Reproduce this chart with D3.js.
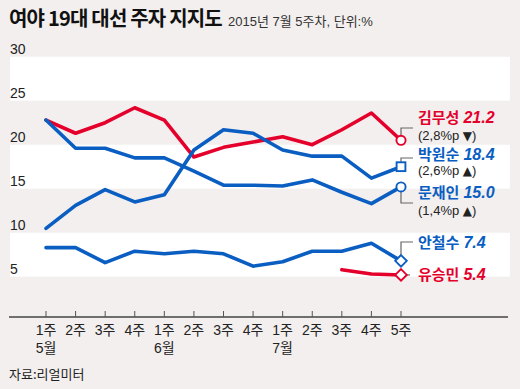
<!DOCTYPE html>
<html>
<head>
<meta charset="utf-8">
<script src="https://cdn.jsdelivr.net/npm/d3@7"></script>
<style>
  body { margin: 0; background: #f2efee; }
  svg { display: block; }
</style>
</head>
<body>
<script>
// weekly poll numbers, May wk1 .. July wk5
var weeks = ["1주", "2주", "3주", "4주", "1주", "2주", "3주", "4주", "1주", "2주", "3주", "4주", "5주"];
var months = ["5월", "", "", "", "6월", "", "", "", "7월", "", "", "", ""];
var yTicks = [5, 10, 15, 20, 25, 30];

var kimMusung = [22.8, 21.3, 22.5, 24.2, 22.8, 18.6, 19.7, 20.3, 20.9, 20.0, 21.7, 23.6, 20.5];
var parkWonsoon = [10.5, 13.1, 14.9, 13.5, 14.3, 19.4, 21.7, 21.3, 19.4, 18.7, 18.7, 16.2, 17.5];
var moonJaein = [22.8, 19.6, 19.6, 18.5, 18.5, 17.0, 15.4, 15.4, 15.3, 16.0, 14.6, 13.3, 15.2];
var ahnCheolsoo = [8.3, 8.3, 6.6, 7.9, 7.6, 7.9, 7.6, 6.2, 6.7, 7.9, 7.9, 8.8, 6.8];
var yooSeungmin = [null, null, null, null, null, null, null, null, null, null, 5.8, 5.3, 5.2];

var names = ["김무성", "박원순", "문재인", "안철수", "유승민"];
var latest = ["21.2", "18.4", "15.0", "7.4", "5.4"];
var changes = [["2,8%p", "▼"], ["2,6%p", "▲"], ["1,4%p", "▲"], null, null];

var red = "#e4002b", blue = "#0a5ec2";

var series = [
    {values: kimMusung, color: red, marker: "circle"},
    {values: parkWonsoon, color: blue, marker: "square"},
    {values: moonJaein, color: blue, marker: "circle"},
    {values: ahnCheolsoo, color: blue, marker: "diamond"},
    {values: yooSeungmin, color: red, marker: "diamond"}
];
// where each right-hand label sits (leader bend y, name baseline)
var labelPos = [
    {bend: 128, nameY: 123, subY: 140},
    {bend: 158, nameY: 160, subY: 175},
    {bend: 203, nameY: 198, subY: 215},
    {bend: 242, nameY: 248},
    {bend: null, nameY: 280}
];

var width = 520, height = 389;
var svg = d3.select("body").append("svg")
    .attr("width", width)
    .attr("height", height);

svg.append("rect")
    .attr("width", width).attr("height", height)
    .attr("fill", "#f2efee");

var x = d3.scalePoint()
    .domain(d3.range(weeks.length))
    .range([46, 401]);
var y = d3.scaleLinear()
    .domain([0, 30])
    .range([320.7, 56.7]);

var numFont = "'Liberation Sans', 'Noto Sans CJK KR', sans-serif";
var krFont = "'Noto Sans CJK KR', 'Liberation Sans', sans-serif";

// alternating white bands
[[25, 30], [15, 20], [5, 10]].forEach(function (b) {
    svg.append("rect")
        .attr("x", 10)
        .attr("width", 500)
        .attr("y", y(b[1]))
        .attr("height", y(b[0]) - y(b[1]))
        .attr("fill", "#ffffff");
});

// y labels sit just above their band edge
svg.selectAll(".ylab")
    .data(yTicks)
    .enter().append("text")
    .attr("x", 10)
    .attr("y", function (d) { return y(d) - 3; })
    .style("font-family", numFont)
    .style("font-size", "14px")
    .attr("fill", "#222")
    .text(function (d) { return d; });

// bottom axis
var axisY = 317;
svg.append("line")
    .attr("x1", 9).attr("x2", 508)
    .attr("y1", axisY).attr("y2", axisY)
    .attr("stroke", "#444").attr("stroke-width", 1.3);

weeks.forEach(function (w, i) {
    svg.append("line")
        .attr("x1", x(i)).attr("x2", x(i))
        .attr("y1", axisY - 6).attr("y2", axisY)
        .attr("stroke", "#555").attr("stroke-width", 1);
    svg.append("text")
        .attr("x", x(i))
        .attr("y", 335)
        .attr("text-anchor", "middle")
        .style("font-family", numFont)
        .style("font-size", "14px")
        .attr("fill", "#222")
        .text(w);
    if (months[i]) {
        svg.append("text")
            .attr("x", x(i))
            .attr("y", 353)
            .attr("text-anchor", "middle")
            .style("font-family", numFont)
            .style("font-size", "14px")
            .attr("fill", "#222")
            .text(months[i]);
    }
});

// lines
var line = d3.line()
    .defined(function (d) { return d != null; })
    .x(function (d, i) { return x(i); })
    .y(function (d) { return y(d); });

series.forEach(function (s) {
    svg.append("path")
        .datum(s.values)
        .attr("d", line)
        .attr("fill", "none")
        .attr("stroke", s.color)
        .attr("stroke-width", 3.6)
        .attr("stroke-linejoin", "round")
        .attr("stroke-linecap", "round");
});

// leaders, markers and labels
var last = weeks.length - 1;
var labelX = 418;
series.forEach(function (s, k) {
    var px = x(last), py = y(s.values[last]);
    var p = labelPos[k];
    var leader = p.bend == null
        ? "M" + px + "," + py + "H410"
        : "M" + px + "," + py + "V" + p.bend + "H413";
    svg.append("path")
        .attr("d", leader)
        .attr("fill", "none")
        .attr("stroke", "#666")
        .attr("stroke-width", 1.2);

    var g = svg.append("g").attr("transform", "translate(" + px + "," + py + ")");
    if (s.marker == "circle") {
        g.append("circle").attr("r", 4.6);
    } else if (s.marker == "square") {
        g.append("rect").attr("x", -4.4).attr("y", -4.4).attr("width", 8.8).attr("height", 8.8);
    } else {
        g.append("path").attr("d", "M0,-5.8L5.8,0L0,5.8L-5.8,0Z");
    }
    g.selectAll("*")
        .attr("fill", "#fff")
        .attr("stroke", s.color)
        .attr("stroke-width", 1.9);

    var t = svg.append("text")
        .attr("x", labelX)
        .attr("y", p.nameY)
        .attr("fill", s.color)
        .style("font-size", "15px")
        .style("font-weight", "700");
    t.append("tspan")
        .style("font-family", krFont)
        .text(names[k]);
    t.append("tspan")
        .attr("dx", 4)
        .style("font-family", numFont)
        .style("font-style", "italic")
        .style("font-size", "16px")
        .text(latest[k]);

    if (changes[k]) {
        var c = svg.append("text")
            .attr("x", labelX)
            .attr("y", p.subY)
            .attr("fill", "#222")
            .style("font-family", numFont)
            .style("font-size", "13px");
        c.append("tspan").text("(" + changes[k][0] + " ");
        c.append("tspan")
            .style("font-family", "'DejaVu Sans', sans-serif")
            .style("font-size", "12px")
            .text(changes[k][1]);
        c.append("tspan").text(")");
    }
});

// title, subtitle, source
svg.append("text")
    .attr("x", 9)
    .attr("y", 26)
    .style("font-family", krFont)
    .style("font-size", "20px")
    .style("font-weight", "700")
    .style("letter-spacing", "-0.8px")
    .attr("fill", "#111")
    .text("여야 19대 대선 주자 지지도");

svg.append("text")
    .attr("x", 228)
    .attr("y", 26)
    .style("font-family", numFont)
    .style("font-size", "13px")
    .attr("fill", "#333")
    .text("2015년 7월 5주차, 단위:%");

svg.append("text")
    .attr("x", 9)
    .attr("y", 379)
    .style("font-family", krFont)
    .style("font-size", "13px")
    .attr("fill", "#222")
    .text("자료:리얼미터");
</script>
</body>
</html>
